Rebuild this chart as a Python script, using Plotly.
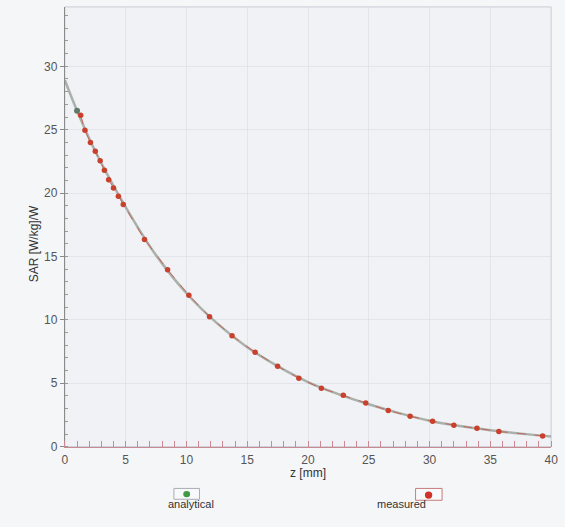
import plotly.graph_objects as go

# Depth profile of SAR normalised to input power
z_analytical = [0, 1, 2.5, 5, 7.5, 10, 12.5, 15, 17.5, 20, 22.5, 25, 27.5, 30, 32.5, 35, 37.5, 40]
sar_analytical = [28.9, 26.5, 23.3, 18.9, 15.1, 12.1, 9.75, 7.85, 6.35, 5.1, 4.15, 3.35, 2.65, 2.05, 1.63, 1.3, 1.03, 0.8]

z_measured = [1.3, 1.65, 2.1, 2.5, 2.9, 3.25, 3.6, 4.0, 4.4, 4.8, 6.55, 8.45, 10.2, 11.9, 13.75,
              15.65, 17.5, 19.25, 21.1, 22.9, 24.75, 26.6, 28.4, 30.25, 32.0, 33.9, 35.7, 39.3]
sar_measured = [26.15, 24.95, 24.0, 23.3, 22.55, 21.8, 21.05, 20.4, 19.75, 19.1, 16.35, 13.95, 11.95, 10.25, 8.75,
                7.45, 6.35, 5.4, 4.6, 4.05, 3.45, 2.85, 2.4, 2.0, 1.7, 1.45, 1.2, 0.85]

x_ticks = [0, 5, 10, 15, 20, 25, 30, 35, 40]
y_ticks = [0, 5, 10, 15, 20, 25, 30]

W, H = 565, 527
x0, x1 = 63, 558      # plot area, px
y_top, y_bot = 7, 452.7


def px_x(p):
    return p / W


def px_y(p):
    return 1 - p / H


fig = go.Figure()

fig.add_trace(go.Scatter(
    x=z_analytical, y=sar_analytical, mode="lines", line_shape="spline",
    line=dict(color="rgba(140,150,140,0.7)", width=2.5), name="analytical",
    showlegend=False,
))
fig.add_trace(go.Scatter(
    x=z_analytical[1:2], y=sar_analytical[1:2], mode="markers",
    marker=dict(color="#5f7a68", size=6), showlegend=False,
))
fig.add_trace(go.Scatter(
    x=z_measured, y=sar_measured, mode="lines+markers",
    line=dict(color="rgba(205,70,55,0.7)", width=1, dash="dash"),
    marker=dict(color="#c9402c", size=5.5), name="measured", showlegend=False,
))

grid = "rgba(205,211,222,0.4)"
fig.update_layout(
    width=W, height=H,
    margin=dict(l=0, r=0, t=0, b=0),
    paper_bgcolor="#f5f6f8",
    plot_bgcolor="#f0f2f6",
    font=dict(family="Liberation Sans, Arial, sans-serif", color="#555"),
    xaxis=dict(
        domain=[px_x(x0), px_x(x1)], range=[0, 40],
        tickvals=x_ticks, ticks="", ticklabelstandoff=2,
        tickfont=dict(size=12, color="#555"),
        showgrid=True, gridcolor=grid, gridwidth=1, zeroline=False,
        showline=True, linecolor="#c98a94", linewidth=1.2,
        minor=dict(dtick=1, ticks="inside", ticklen=6, tickcolor="#c98a94", showgrid=False),
    ),
    yaxis=dict(
        domain=[px_y(y_bot), px_y(y_top)], range=[0, (y_bot - y_top) / 12.85],
        tickvals=y_ticks, ticks="outside", ticklen=4, tickcolor="#888",
        tickfont=dict(size=12, color="#555"),
        showgrid=True, gridcolor=grid, gridwidth=1, zeroline=False,
        showline=True, linecolor="#8a8a8a", linewidth=1.2,
        minor=dict(dtick=1, ticks="inside", ticklen=3, tickcolor="#999", showgrid=False),
    ),
    shapes=[
        # frame on top and right
        dict(type="rect", xref="x domain", yref="y domain", x0=0, x1=1, y0=0, y1=1,
             line=dict(color="#c9ccd3", width=1), layer="below"),
        # legend keys
        dict(type="rect", xref="paper", yref="paper",
             x0=px_x(174), x1=px_x(200), y0=px_y(506), y1=px_y(495),
             line=dict(color="#a9adb3", width=1), fillcolor="#f8f9fa"),
        dict(type="circle", xref="paper", yref="paper",
             x0=px_x(183.5), x1=px_x(190.5), y0=px_y(504), y1=px_y(497.5),
             line=dict(width=0), fillcolor="#3f9a45"),
        dict(type="rect", xref="paper", yref="paper",
             x0=px_x(420), x1=px_x(447), y0=px_y(507), y1=px_y(495),
             line=dict(color="#c97b7b", width=1), fillcolor="#f8f9fa"),
        dict(type="circle", xref="paper", yref="paper",
             x0=px_x(429.5), x1=px_x(437), y0=px_y(505.5), y1=px_y(498),
             line=dict(width=0), fillcolor="#d0322a"),
    ],
    annotations=[
        dict(text="SAR [W/kg]/W", xref="paper", yref="paper", x=px_x(22), y=px_y(247),
             textangle=-90, showarrow=False, font=dict(size=12, color="#333")),
        dict(text="z [mm]", xref="paper", yref="paper", x=px_x(311), y=px_y(488),
             showarrow=False, font=dict(size=12, color="#333")),
        dict(text="analytical", xref="paper", yref="paper", x=px_x(191), y=px_y(519),
             showarrow=False, font=dict(size=11, color="#333")),
        dict(text="measured", xref="paper", yref="paper", x=px_x(433), y=px_y(519),
             showarrow=False, font=dict(size=11, color="#333")),
    ],
)

fig.write_html("out.html")
